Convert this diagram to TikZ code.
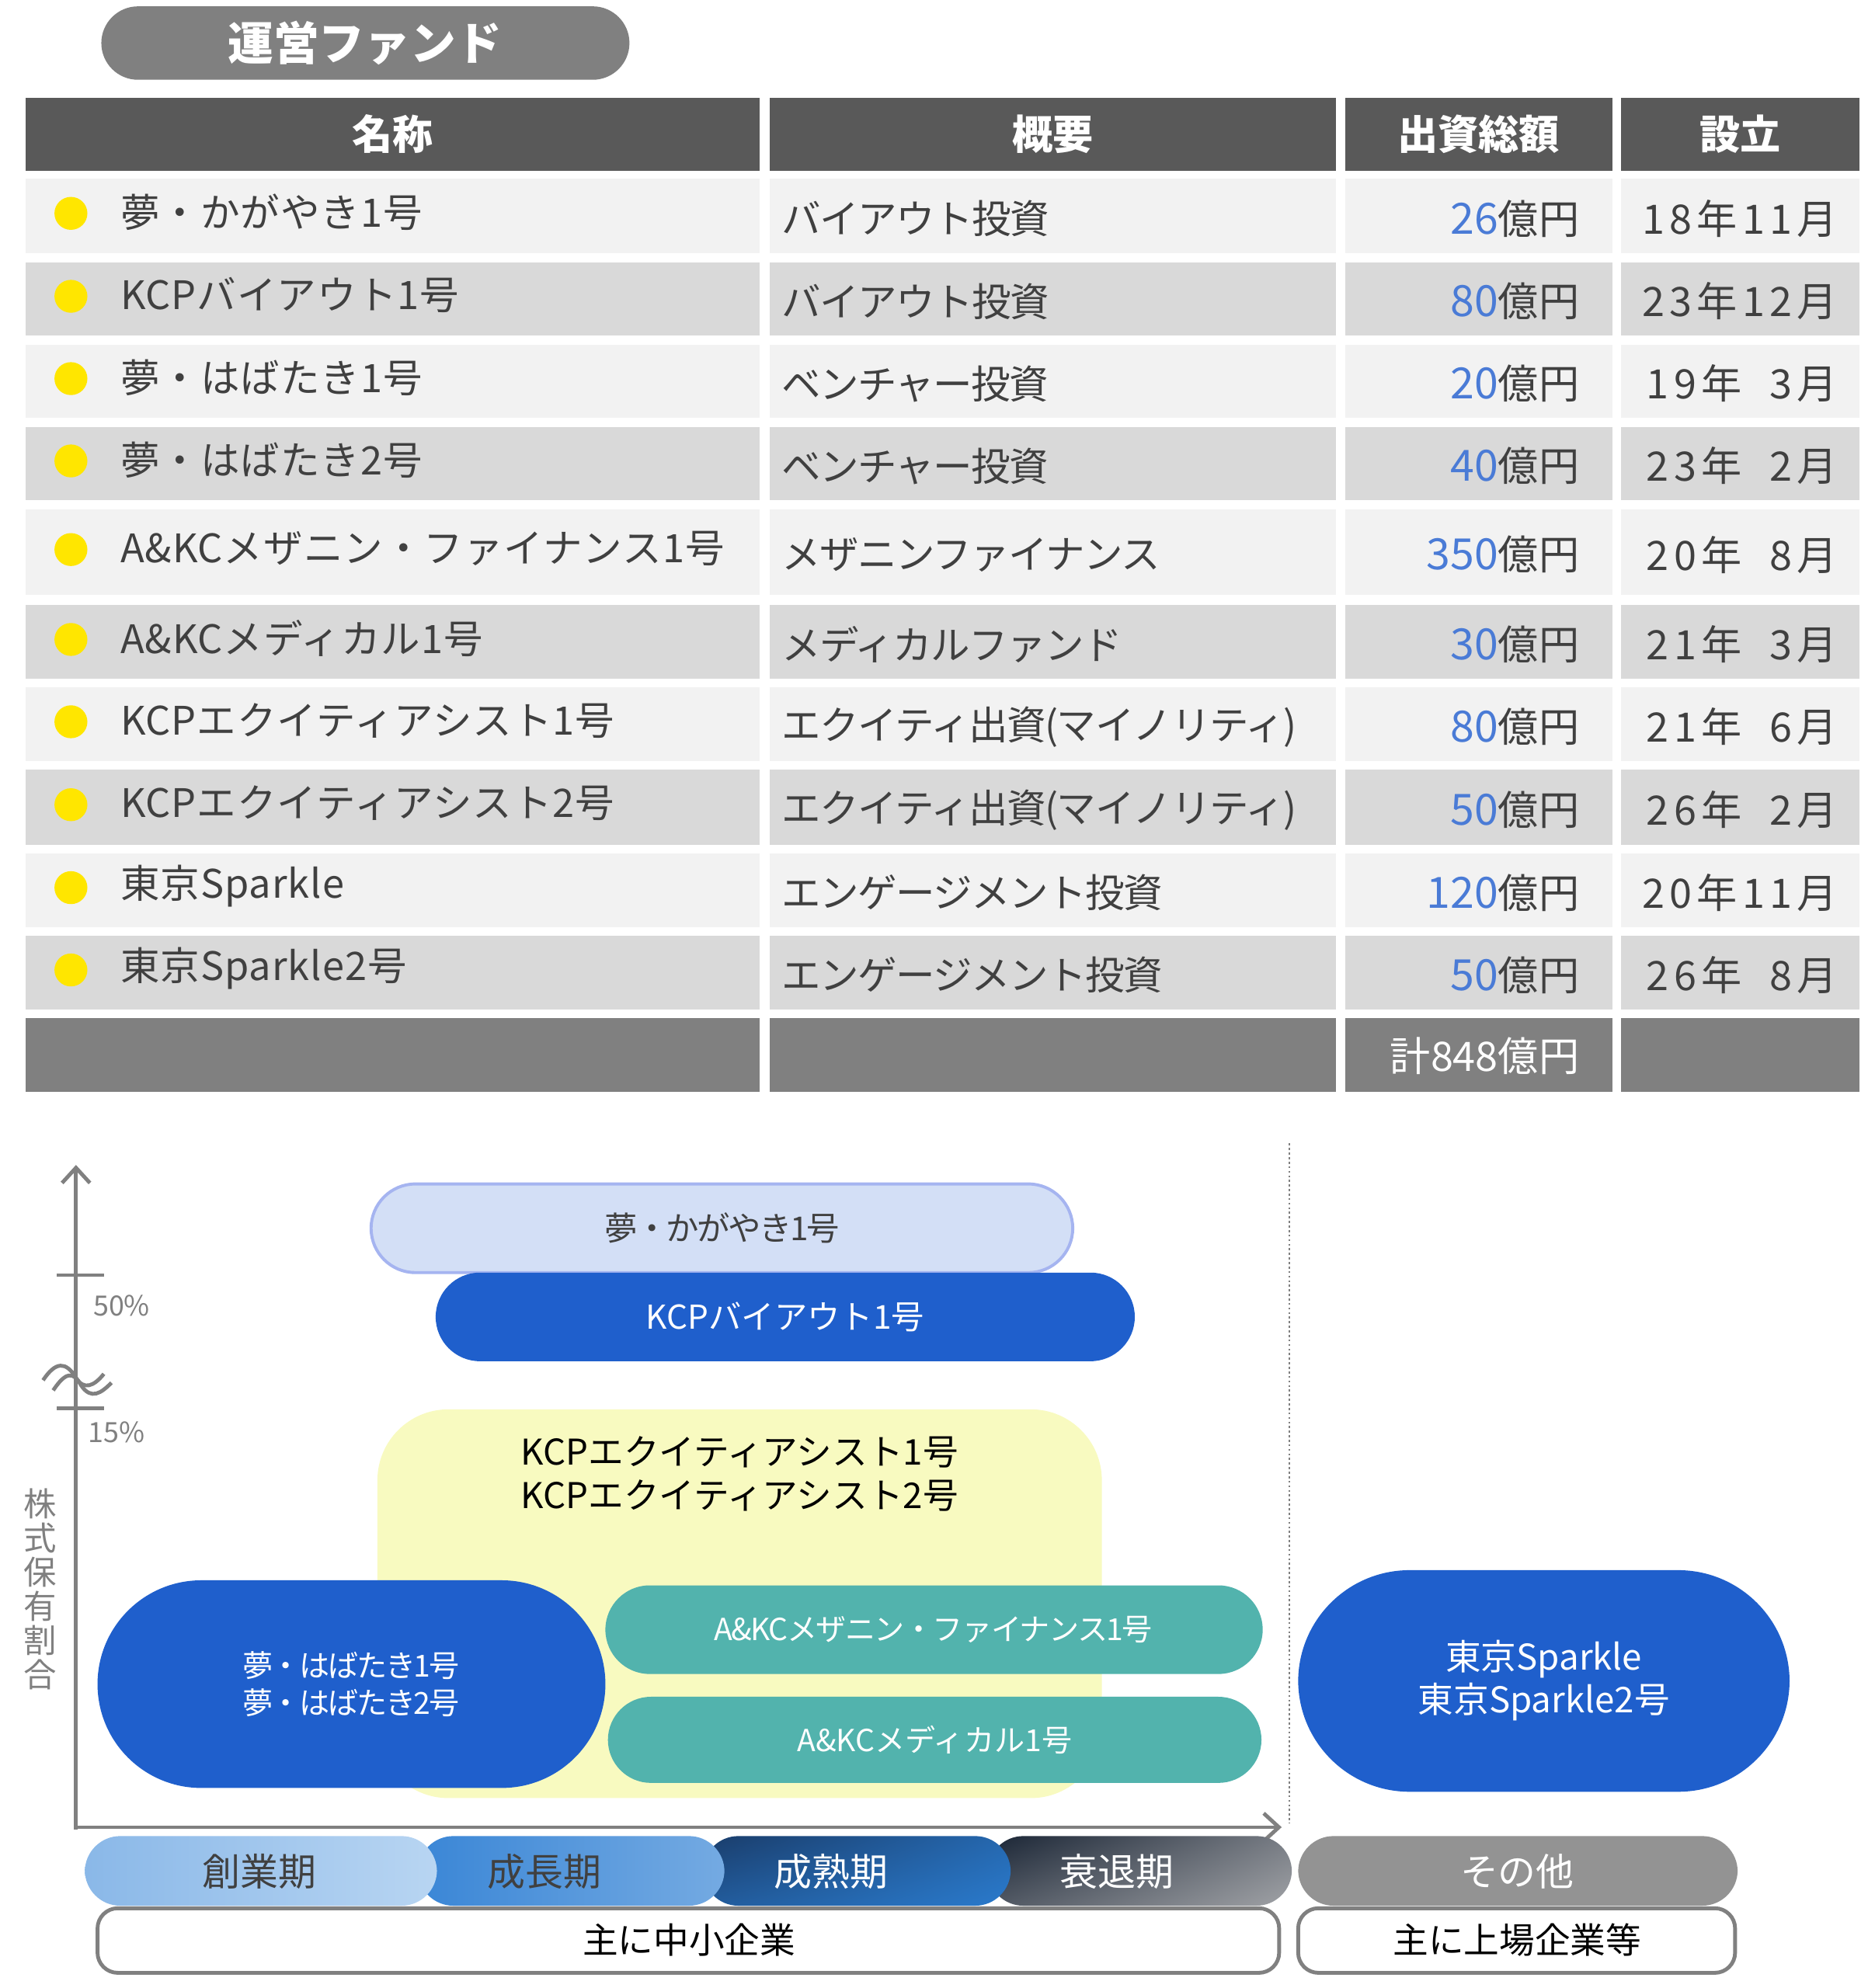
\documentclass[tikz,border=0pt]{standalone}
\usepackage{fontspec}
\setmainfont{Noto Sans CJK JP}
\usetikzlibrary{arrows.meta,shadings}
\definecolor{hdr}{HTML}{595959}
\definecolor{rowA}{HTML}{F2F2F2}
\definecolor{rowB}{HTML}{D9D9D9}
\definecolor{tot}{HTML}{808080}
\definecolor{num}{HTML}{4A7BD6}
\definecolor{dot}{HTML}{FFE600}
\definecolor{kblue}{HTML}{1F5FCC}
\definecolor{teal}{HTML}{52B3AD}
\definecolor{lblue}{HTML}{D3DFF6}
\definecolor{lbord}{HTML}{A5B4F0}
\definecolor{ylw}{HTML}{F8FAC0}
\definecolor{ax}{HTML}{808080}
\definecolor{txt}{HTML}{404040}
\definecolor{g1a}{HTML}{8AB8E8}\definecolor{g1b}{HTML}{B8D5F2}
\definecolor{g2a}{HTML}{3A86D6}\definecolor{g2b}{HTML}{74AAE2}
\definecolor{g3a}{HTML}{1A3D6B}\definecolor{g3b}{HTML}{2A7ACC}
\definecolor{g4a}{HTML}{1A2535}\definecolor{g4b}{HTML}{A0A2A6}
\begin{document}
\begin{tikzpicture}[x=0.5pt,y=-0.5pt,
 ttxt/.style={font=\fontsize{16}{18}\selectfont,text=txt},
 htxt/.style={font=\fontsize{16}{18}\selectfont\bfseries,text=white},
 ctxt/.style={font=\fontsize{13}{16}\selectfont}]
\useasboundingbox (0,0) rectangle (1480,1570);
% title
\fill[tot,rounded corners=14.5pt] (80,5) rectangle (497,63);
\node[htxt,font=\fontsize{18}{20}\selectfont\bfseries] (title) at (288,34) {運営ファンド};
% header
\foreach \a/\b/\t [count=\i] in {20/600/名称,608/1055/概要,1062/1273/出資総額,1280/1468/設立}{
 \fill[hdr] (\a,77) rectangle (\b,135);
 \node[htxt] (h\i) at ({(\a+\b)/2},106) {\t};
}
% rows
\foreach \y/\h/\c/\n/\o/\v/\d [count=\i] in {
141/59/rowA/夢・かがやき1号/バイアウト投資/26/18年11月,
207/58/rowB/KCPバイアウト1号/バイアウト投資/80/23年12月,
272/58/rowA/夢・はばたき1号/ベンチャー投資/20/19年\ \ 3月,
337/58/rowB/夢・はばたき2号/ベンチャー投資/40/23年\ \ 2月,
402/68/rowA/A\&KCメザニン・ファイナンス1号/メザニンファイナンス/350/20年\ \ 8月,
478/58/rowB/A\&KCメディカル1号/メディカルファンド/30/21年\ \ 3月,
543/58/rowA/KCPエクイティアシスト1号/エクイティ出資(マイノリティ)/80/21年\ \ 6月,
608/59/rowB/KCPエクイティアシスト2号/エクイティ出資(マイノリティ)/50/26年\ \ 2月,
674/58/rowA/東京Sparkle/エンゲージメント投資/120/20年11月,
739/58/rowB/東京Sparkle2号/エンゲージメント投資/50/26年\ \ 8月}{
 \foreach \a/\b in {20/600,608/1055,1062/1273,1280/1468}{\fill[\c] (\a,\y) rectangle (\b,\y+\h);}
 \fill[dot] (56,\y+\h/2-2) circle (13);
 \node[ttxt,anchor=west,font=\fontsize{15.5}{18}\selectfont\addfontfeatures{LetterSpace=2}] (n\i) at (88,\y+\h/2-3) {\n};
 \node[ttxt,anchor=west,font=\fontsize{15.5}{18}\selectfont\addfontfeatures{LetterSpace=-3}] (o\i) at (610,\y+\h/2+2) {\o};
 \node[ttxt,anchor=east] (v\i) at (1254,\y+\h/2+2) {\textcolor{num}{\fontsize{17}{18}\selectfont\v}億円};
 \node[ttxt,anchor=east,font=\fontsize{16}{18}\selectfont\addfontfeatures{LetterSpace=12}] (d\i) at (1458,\y+\h/2+2) {\d};
}
\foreach \a/\b in {20/600,608/1055,1062/1273,1280/1468}{\fill[tot] (\a,804) rectangle (\b,862);}
\node[htxt,font=\fontsize{16}{18}\selectfont,anchor=east] (total) at (1254,834) {計848億円};
% chart axes
\draw[ax,line width=1.5pt,-{Straight Barb[length=6pt,width=11pt]}] (60,1445) -- (60,920);
\draw[ax,line width=1.5pt,-{Straight Barb[length=6pt,width=11pt]}] (60,1443) -- (1012,1443);
\draw[ax,line width=1.5pt] (45,1007) -- (82,1007) (45,1112) -- (82,1112);
\draw[ax,line width=1.5pt] (34,1090) .. controls (44,1075) and (52,1075) .. (60,1088) .. controls (66,1098) and (74,1095) .. (82,1085);
\draw[ax,line width=1.5pt] (42,1098) .. controls (52,1083) and (58,1083) .. (64,1094) .. controls (72,1106) and (80,1100) .. (88,1092);
\node[ax,ctxt,font=\fontsize{11}{13}\selectfont] (p50) at (96,1031) {50\%};
\node[ax,ctxt,font=\fontsize{11}{13}\selectfont] (p15) at (92,1131) {15\%};
\node[ax,ctxt,align=center,inner sep=0pt,font=\fontsize{13}{13.5}\selectfont] (yl) at (32,1255) {株\\式\\保\\有\\割\\合};
\draw[ax,densely dotted,line width=0.8pt] (1018,903) -- (1018,1440);
% chart shapes
\draw[fill=lblue,draw=lbord,line width=1.2pt,rounded corners=17.5pt] (293,935) rectangle (847,1005);
\node[ctxt,text=txt,font=\fontsize{13}{16}\selectfont\addfontfeatures{LetterSpace=-6}] (kg) at (570,970) {夢・かがやき1号};
\fill[kblue,rounded corners=17.5pt] (344,1005) rectangle (896,1075);
\node[ctxt,text=white] (kb) at (620,1040) {KCPバイアウト1号};
\fill[ylw,rounded corners=28pt] (298,1113) rectangle (870,1420);
\node[ctxt,text=black,align=center,font=\fontsize{14}{17}\selectfont] (ea) at (584,1164) {KCPエクイティアシスト1号\\KCPエクイティアシスト2号};
\fill[kblue,rounded corners=41pt] (77,1248) rectangle (478,1412);
\node[ctxt,text=white,align=center,font=\fontsize{12}{15}\selectfont\addfontfeatures{LetterSpace=-6}] (hb) at (277,1330) {夢・はばたき1号\\夢・はばたき2号};
\fill[teal,rounded corners=17.5pt] (478,1252) rectangle (997,1322);
\node[ctxt,text=white,font=\fontsize{12}{15}\selectfont\addfontfeatures{LetterSpace=-4}] (mz) at (737,1287) {A\&KCメザニン・ファイナンス1号};
\fill[teal,rounded corners=17pt] (480,1340) rectangle (996,1408);
\node[ctxt,text=white,font=\fontsize{12}{15}\selectfont] (md) at (738,1374) {A\&KCメディカル1号};
\fill[kblue,rounded corners=44pt] (1025,1240) rectangle (1413,1415);
\node[ctxt,text=white,align=center,font=\fontsize{14}{17}\selectfont] (ts) at (1219,1327) {東京Sparkle\\東京Sparkle2号};
% stages
\shade[rounded corners=14pt,upper left=g4a,lower right=g4b,upper right=g4b!70!g4a,lower left=g4a!60!g4b] (780,1450) rectangle (1020,1505);
\shade[rounded corners=14pt,upper left=g3a,lower right=g3b,upper right=g3b!70!g3a,lower left=g3a!50!g3b] (555,1450) rectangle (798,1505);
\shade[rounded corners=14pt,left color=g2a,right color=g2b] (330,1450) rectangle (572,1505);
\shade[rounded corners=14pt,left color=g1a,right color=g1b] (67,1450) rectangle (345,1505);
\node[ctxt,font=\fontsize{15}{17}\selectfont,text=txt] (s1) at (205,1478) {創業期};
\node[ctxt,font=\fontsize{15}{17}\selectfont,text=txt] (s2) at (430,1478) {成長期};
\node[ctxt,font=\fontsize{15}{17}\selectfont,text=white] (s3) at (656,1478) {成熟期};
\node[ctxt,font=\fontsize{15}{17}\selectfont,text=white] (s4) at (882,1478) {衰退期};
\fill[gray!85,rounded corners=14pt] (1025,1450) rectangle (1372,1505);
\node[ctxt,font=\fontsize{15}{17}\selectfont,text=white] (s5) at (1198,1478) {その他};
\draw[ax,line width=1.5pt,fill=white,rounded corners=8pt] (77,1507) rectangle (1010,1558);
\node[ctxt,font=\fontsize{14}{17}\selectfont,text=black] (b1) at (544,1532) {主に中小企業};
\draw[ax,line width=1.5pt,fill=white,rounded corners=8pt] (1025,1507) rectangle (1370,1558);
\node[ctxt,font=\fontsize{14}{17}\selectfont,text=black] (b2) at (1198,1532) {主に上場企業等};
\end{tikzpicture}
\end{document}
